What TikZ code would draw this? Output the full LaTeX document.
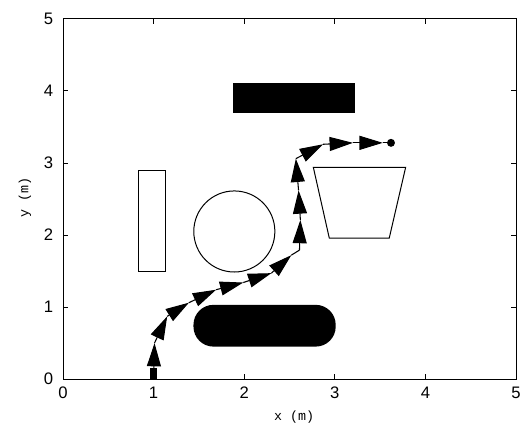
\documentclass[tikz,border=0pt]{standalone}
\usepackage{fontspec}
\setmainfont{Liberation Sans}
\newfontfamily\unitfont{Liberation Mono}
\usetikzlibrary{arrows.meta}

\begin{document}
\begin{tikzpicture}[x=67.95pt,y=54pt,line width=0.75pt,
        every node/.style={inner sep=0pt,font=\fontsize{12.5}{14}\selectfont},
        axlabel/.style={font=\unitfont\fontsize{10}{12}\selectfont},
        hop/.style={line width=0.8pt,-{Triangle[length=17.5pt,width=10.5pt]}},
        link/.style={line width=0.8pt}]
        \useasboundingbox (-0.6954,-0.6528) rectangle (5.1435,5.2639);
        \fill (1.873,3.69) rectangle (3.223,4.115);
        \draw (0.835,1.49) rectangle (1.126,2.90);
        \draw (1.891,2.049) circle [radius=30.4pt];
        \draw (2.763,2.94) -- (3.782,2.94) -- (3.601,1.958) -- (2.939,1.958) -- cycle;
        \fill[rounded corners=15pt] (1.44,0.45) rectangle (3.01,1.03);
        \draw (0,0) rectangle (5,5);
        \foreach \t in {1,...,4} {
          \draw (\t,0) -- ++(0,3.75pt) (\t,5) -- ++(0,-3.75pt);
          \draw (0,\t) -- ++(3.75pt,0) (5,\t) -- ++(-3.75pt,0);
        }
        \foreach \t in {0,...,5} {
          \node[anchor=north] (xt\t) at ([yshift=-5.5pt]\t,0) {\t};
          \node[anchor=east] (yt\t) at ([xshift=-7pt]0,\t) {\t};
        }
        \node[axlabel] (xlab) at (2.55,-0.523) {x (m)};
        \node[axlabel,rotate=90] (ylab) at (-0.42,2.52) {y (m)};
        \foreach \px/\py [count=\i from 0] in {1/0,1.01/0.5,1.15/0.87,1.39/1.06,
            1.69/1.24,1.99/1.34,2.30/1.47,2.52/1.72,2.61/1.79,2.62/2.21,
            2.60/2.62,2.57/3.06,2.87/3.26,3.20/3.28,3.53/3.28,3.62/3.28}
          \coordinate (w\i) at (\px,\py);
        \fill (0.965,0) rectangle (1.04,0.15);
        \foreach \a/\b in {0/1,1/2,2/3,3/4,4/5,5/6,6/7,8/9,9/10,10/11,11/12,12/13,13/14}
          \draw[hop] (w\a) -- (w\b);
        \draw[link] (w7) -- (w8);
        \draw[link] (w14) -- (w15);
        \fill (w15) circle [radius=3pt];
      \end{tikzpicture}
\end{document}
